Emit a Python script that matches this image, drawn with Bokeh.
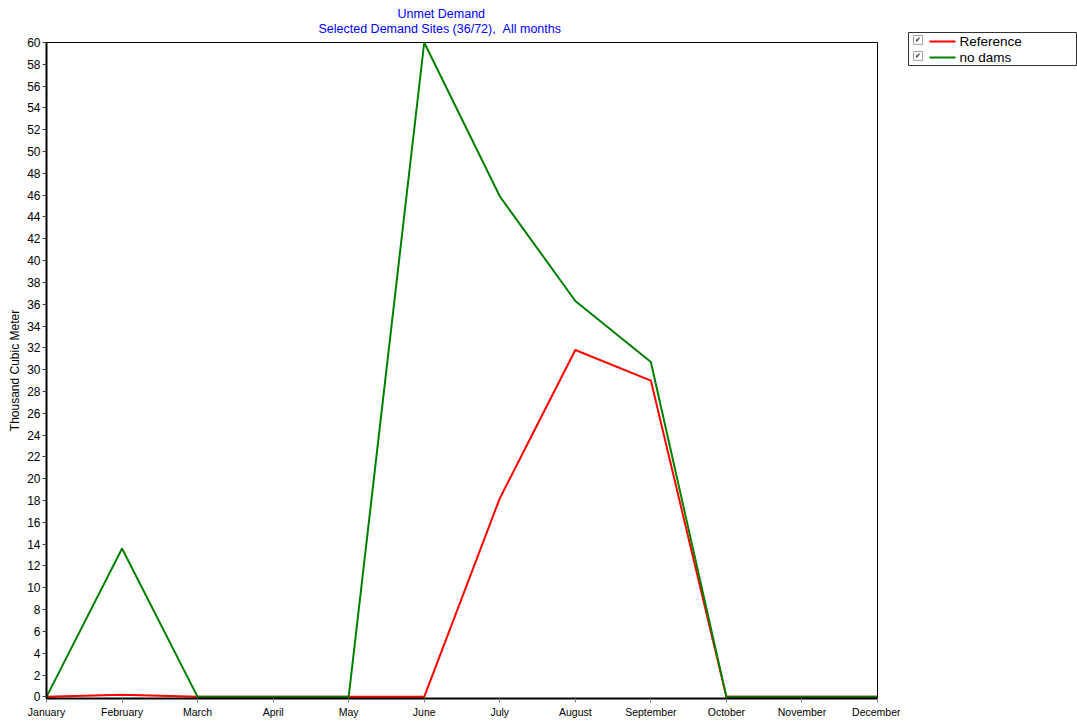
from bokeh.plotting import figure
from bokeh.models import Range1d, FixedTicker, Title
from bokeh.layouts import row, column
from bokeh.embed import file_html
from bokeh.resources import INLINE
from bokeh.core.properties import value

months = ["January", "February", "March", "April", "May", "June", "July",
          "August", "September", "October", "November", "December"]
reference = [0, 0.2, 0, 0, 0, 0, 18.2, 31.8, 29.0, 0, 0, 0]
no_dams = [0, 13.6, 0, 0, 0, 60.0, 45.9, 36.3, 30.7, 0, 0, 0]
y_ticks = list(range(0, 61, 2))
series_names = ["Reference", "no dams"]
series_colors = ["#ff0000", "#008000"]
title_text = "Unmet Demand"
subtitle_text = "Selected Demand Sites (36/72),\u00a0\u00a0All months"
y_label = "Thousand Cubic Meter"

x = list(range(len(months)))
FONT = "Liberation Sans"

p = figure(frame_width=831, frame_height=656, output_backend="svg",
           toolbar_location=None,
           x_range=Range1d(0, 11), y_range=Range1d(-0.15, 60), title=None,
           min_border_left=46, min_border_right=23, min_border_top=42,
           min_border_bottom=22)

sub = Title(text=subtitle_text, align="left", offset=272, text_font_size="12.5px",
            text_color="#0000ff", text_font=FONT, text_font_style="normal",
            standoff=13)
main = Title(text=title_text, align="left", offset=351, text_font_size="12.5px",
             text_color="#0000ff", text_font=FONT, text_font_style="normal",
             standoff=-15)
p.add_layout(sub, "above")
p.add_layout(main, "above")

p.line(x, reference, line_color=series_colors[0], line_width=2)
p.line(x, no_dams, line_color=series_colors[1], line_width=2)

p.xgrid.visible = False
p.ygrid.visible = False
p.outline_line_color = "black"
p.outline_line_alpha = 1.0
p.outline_line_width = 1
p.background_fill_color = "white"
p.border_fill_color = "white"

p.xaxis.ticker = FixedTicker(ticks=x)
p.xaxis.major_label_overrides = {i: m for i, m in enumerate(months)}
p.xaxis.major_label_text_font = FONT
p.xaxis.major_label_text_font_size = "10.5px"
p.xaxis.major_label_text_color = "#000000"
p.xaxis.major_label_standoff = 3
p.xaxis.major_tick_out = 4
p.xaxis.major_tick_in = 0
p.xaxis.major_tick_line_color = "#808080"
p.xaxis.minor_tick_line_color = None
p.xaxis.axis_line_color = "black"
p.xaxis.axis_line_width = 2

p.yaxis.ticker = FixedTicker(ticks=y_ticks)
p.yaxis.major_label_text_font = FONT
p.yaxis.major_label_text_font_size = "12px"
p.yaxis.major_label_text_color = "#000000"
p.yaxis.major_label_standoff = 2
p.yaxis.major_tick_out = 4
p.yaxis.major_tick_in = 0
p.yaxis.major_tick_line_color = "#404040"
p.yaxis.minor_tick_line_color = None
p.yaxis.axis_line_color = "black"
p.yaxis.axis_line_width = 2
p.yaxis.axis_label = y_label
p.yaxis.axis_label_text_font = FONT
p.yaxis.axis_label_text_font_size = "12px"
p.yaxis.axis_label_text_font_style = "normal"
p.yaxis.axis_label_text_color = "#000000"
p.yaxis.axis_label_standoff = 2

# legend panel (coordinates in page pixels: x from 900, y from 0)
lg = figure(width=177, height=80, output_backend="svg", toolbar_location=None,
            x_range=Range1d(0, 177), y_range=Range1d(80, 0),
            x_axis_location=None, y_axis_location=None, min_border=0,
            outline_line_color=None)
lg.grid.visible = False
lg.border_fill_color = "white"
lg.background_fill_color = "white"

lg.quad(left=8, right=176, top=32, bottom=65, fill_color="white",
        line_color="#303030", line_width=1)
ys = [41, 57]
lg.quad(left=13, right=22, top=[y - 6 for y in ys], bottom=[y + 3 for y in ys],
        fill_color="white", line_color="#a0a0a0", line_width=1)
lg.text(x=17.5, y=[y - 1.5 for y in ys], text=["\u2714"] * len(ys),
        text_font=value("DejaVu Sans"), text_font_size="7px",
        text_align="center", text_baseline="middle", text_color="#202020")
lg.segment(x0=29, x1=55, y0=ys, y1=ys, line_color=series_colors, line_width=2)
lg.text(x=59, y=ys, text=series_names, text_font=value(FONT),
        text_font_size="13.5px", text_align="left", text_baseline="middle",
        text_color="#000000")

layout = row(p, column(lg))
open("out.html", "w").write(file_html(layout, INLINE))
